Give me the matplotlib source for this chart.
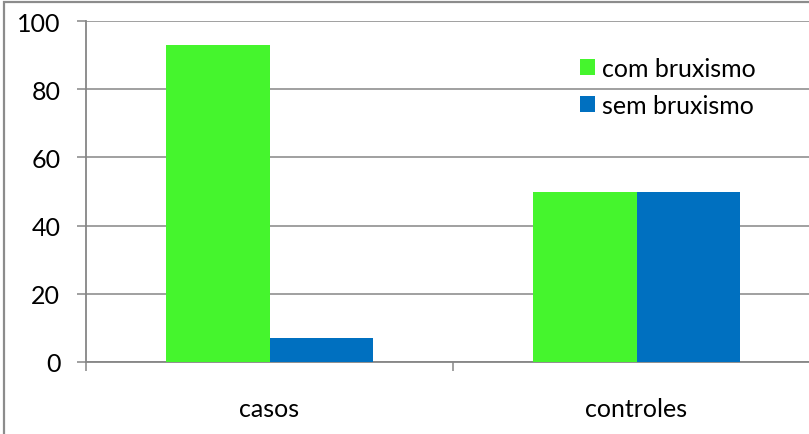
import numpy as np
import matplotlib.pyplot as plt
from matplotlib.patches import Rectangle

# data
categorias = ['casos', 'controles']
com_bruxismo = [93, 50]
sem_bruxismo = [7, 50]
series_labels = ['com bruxismo', 'sem bruxismo']
y_ticks = [0, 20, 40, 60, 80, 100]

plt.rcParams['font.family'] = ['Lato', 'DejaVu Sans']

W, H = 809, 435
fig = plt.figure(figsize=(W / 100, H / 100), dpi=100)

# axes placed in pixel terms (right edge runs past the figure like the original)
left, right, top, bottom = 86, 820, 22, 363
ax = fig.add_axes([left / W, 1 - bottom / H, (right - left) / W, (bottom - top) / H])

gray = '#868686'
green = '#45F52D'
blue = '#0070C0'

x = np.arange(len(categorias))
bw = 0.283
ax.bar(x - bw / 2, com_bruxismo, bw, color=green, label=series_labels[0], zorder=3)
ax.bar(x + bw / 2, sem_bruxismo, bw, color=blue, label=series_labels[1], zorder=3)

ax.set_xlim(-0.5, len(categorias) - 0.5)
ax.set_ylim(0, 100)
ax.set_yticks(y_ticks)
ax.set_yticklabels([str(v) for v in y_ticks], fontsize=18)
ax.grid(axis='y', color=gray, linewidth=1.1, zorder=0)

ax.set_xticks(x)
ax.set_xticklabels(categorias, fontsize=18)
ax.set_xticks(np.arange(-0.5, len(categorias)), minor=True)
ax.tick_params(axis='x', which='major', length=0, pad=25)
ax.tick_params(axis='x', which='minor', length=6.5, width=1.1, color=gray, direction='out')
ax.tick_params(axis='y', length=6.5, width=1.1, color=gray, direction='out', pad=12)

for s in ['top', 'right']:
    ax.spines[s].set_visible(False)
for s in ['left', 'bottom']:
    ax.spines[s].set_color(gray)
    ax.spines[s].set_linewidth(1.3)

leg = ax.legend(loc='upper left', bbox_to_anchor=(580 / W, 1 - 58 / H),
                bbox_transform=fig.transFigure, frameon=False, fontsize=18,
                handlelength=0.6, handleheight=0.6, handletextpad=0.3,
                labelspacing=0.55, borderpad=0, borderaxespad=0)

# outer chart border
fig.patches.append(Rectangle((4 / W, -0.1), 1.1, 1 - 3 / H + 0.1, transform=fig.transFigure,
                             fill=False, edgecolor='#8c8c8c', linewidth=1.6))

fig.savefig('out.png', dpi=100)
